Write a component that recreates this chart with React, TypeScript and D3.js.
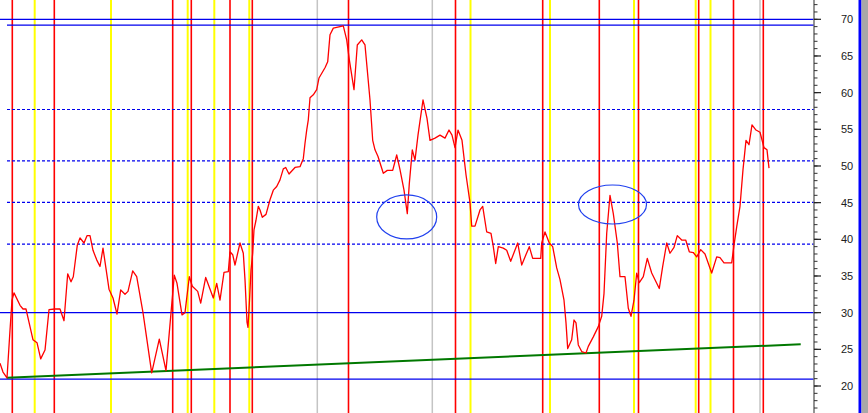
import React from "react";
import * as d3 from "d3";

const W = 868;
const H = 413;

// price series: time index and value
const priceT = [0, 3, 7, 10, 12, 14, 20, 23, 26, 30, 33, 37, 40.7, 45, 49, 55, 60, 64, 67.7, 71, 73.3, 77.3, 80, 84, 87, 90, 93, 96.7, 100, 103, 109, 113, 117, 120.7, 125, 128, 132.7, 136.7, 143, 151.7, 159.3, 166, 170.7, 174.3, 177, 182, 185, 189.3, 192.3, 197.7, 200.7, 205.7, 213.3, 216.7, 220, 224, 228.3, 230, 232.7, 235, 240, 243.3, 245, 247, 248, 249.5, 251, 252.7, 254, 256, 258.3, 260, 262.3, 266, 270, 273.3, 276.7, 280, 283.3, 285.7, 289, 295, 300, 303.3, 305, 306.7, 308.3, 310, 313.3, 316.7, 319, 325, 327.7, 330, 333.3, 340, 343.3, 346.7, 349.3, 354, 357.3, 361.7, 365, 370, 372.7, 375, 378, 383.3, 387.3, 392.7, 396.7, 400, 404, 407.3, 409.3, 412.3, 415, 418, 423, 427, 430, 435, 440, 445, 449, 452, 455, 458, 462, 466, 470, 471.7, 475, 480, 482.7, 486.7, 491, 493.3, 495.7, 498.3, 503.3, 506.7, 510.7, 517.7, 521.7, 525, 529.3, 532.7, 540.7, 541.7, 545, 549.3, 552.7, 556.7, 560, 564, 566, 567.7, 569.3, 571.7, 574, 576, 578.3, 581.7, 586, 588.3, 593.3, 598.3, 601.7, 604, 606.7, 610, 613.3, 617.3, 620, 625, 628.3, 631, 634, 636.7, 639.3, 643.3, 647.3, 651.7, 659.3, 662.7, 666.7, 670, 674, 677.3, 681.7, 685.7, 689.3, 693.3, 696.7, 700.7, 705, 711.7, 716.7, 720, 724, 731.7, 734, 736.7, 740, 743, 746, 749, 752, 756, 760, 764, 767, 769];
const priceV = [23.1, 21.9, 21.1, 27.6, 31.7, 32.7, 31.0, 30.5, 30.5, 28.1, 26.3, 25.9, 23.7, 24.9, 30.4, 30.5, 30.5, 28.9, 35.3, 34.2, 34.9, 39.2, 40.2, 39.5, 40.5, 40.5, 38.5, 37.2, 36.3, 38.8, 33.2, 32.0, 29.8, 33.1, 32.5, 32.9, 35.7, 34.9, 30.0, 21.8, 26.4, 22.1, 29.5, 35.1, 34.0, 29.7, 30.0, 34.9, 33.6, 32.9, 31.3, 34.8, 32.0, 34.0, 31.7, 35.5, 35.6, 38.3, 37.9, 36.5, 39.5, 38.1, 34.5, 28.7, 28.0, 31.7, 35.8, 38.1, 41.3, 42.6, 44.5, 44.0, 43.0, 43.4, 45.4, 46.7, 47.2, 48.1, 49.6, 49.8, 48.9, 49.8, 49.9, 51.0, 53.1, 54.9, 56.3, 59.3, 59.7, 60.4, 62.0, 63.4, 64.2, 67.9, 68.8, 69.0, 69.1, 67.2, 64.5, 60.4, 66.5, 67.2, 66.5, 59.0, 53.5, 52.2, 51.3, 49.0, 49.4, 49.4, 51.5, 49.5, 46.7, 43.5, 47.6, 52.2, 50.8, 54.2, 59.0, 56.5, 53.5, 53.8, 54.2, 53.8, 54.9, 54.2, 52.5, 54.9, 53.5, 48.8, 45.0, 41.8, 41.8, 44.0, 44.5, 41.0, 40.8, 39.0, 36.7, 39.0, 38.8, 38.5, 37.0, 39.5, 36.5, 37.6, 39.0, 37.4, 37.4, 39.5, 41.0, 39.5, 39.0, 36.1, 34.5, 31.7, 28.6, 25.1, 25.6, 26.3, 29.0, 28.6, 25.6, 24.7, 24.5, 25.4, 26.7, 28.1, 29.5, 32.6, 40.8, 46.0, 43.5, 39.5, 34.9, 34.9, 30.6, 29.5, 31.7, 35.4, 34.1, 34.9, 37.4, 35.4, 33.3, 36.3, 39.5, 38.1, 38.9, 40.5, 39.9, 39.9, 38.3, 38.2, 37.6, 38.6, 38.0, 35.4, 37.6, 37.5, 36.8, 36.8, 39.2, 41.7, 44.5, 49.5, 53.5, 52.9, 55.6, 54.9, 54.6, 52.5, 52.2, 49.7];

// vertical marker lines (time index)
const redLines = [12.3, 54.3, 172.7, 191.3, 230, 252.3, 348.5, 455.5, 542.7, 599.3, 638.5, 698.7, 733.5, 763.3];
const yellowLines = [34.7, 111, 187.7, 214.3, 249.3, 470.5, 550, 634, 695.7, 710.5];
const grayLines = [317.3, 432.3, 760];

// horizontal levels
const solidLevels = [70, 69.2, 30, 20.95];
const dashedLevels = [57.7, 50.7, 45.05, 39.35];

// trend line
const trendT = [6.7, 800.7];
const trendV = [21.13, 25.69];

// ellipse annotations
const ellipseT = [406.7, 612.5];
const ellipseV = [43.05, 44.75];
const ellipseRT = [30, 34];
const ellipseRV = [3.0, 2.66];

// axis ticks
const majorTicks = [20, 25, 30, 35, 40, 45, 50, 55, 60, 65, 70];
const minorTicks = d3.range(17, 73);

export default function App() {
  const axisX = 814;
  const x = d3.scaleLinear().domain([0, 813]).range([0, 813]);
  const y = d3.scaleLinear().domain([20, 70]).range([386, 19.3]);

  const pts: [number, number][] = priceT.map((t, i) => [t, priceV[i]]);
  const line = d3
    .line<[number, number]>()
    .x((d) => x(d[0]))
    .y((d) => y(d[1]));
  const trend: [number, number][] = trendT.map((t, i) => [t, trendV[i]]);

  return (
    <svg
      width={W}
      height={H}
      style={{ position: "absolute", left: 0, top: 0, display: "block" }}
    >
      <rect x={0} y={0} width={W} height={H} fill="#ffffff" />
      {grayLines.map((t, i) => (
        <line key={"g" + i} x1={x(t)} x2={x(t)} y1={0} y2={H} stroke="#c4c4c4" strokeWidth={1.5} />
      ))}
      {yellowLines.map((t, i) => (
        <line key={"yl" + i} x1={x(t)} x2={x(t)} y1={0} y2={H} stroke="#ffff00" strokeWidth={2} />
      ))}
      {redLines.map((t, i) => (
        <line key={"r" + i} x1={x(t)} x2={x(t)} y1={0} y2={H} stroke="#ff0000" strokeWidth={1.6} />
      ))}
      {solidLevels.map((v, i) => (
        <line key={"s" + i} x1={i === 1 ? 7 : 0} x2={axisX} y1={y(v)} y2={y(v)} stroke="#0000ee" strokeWidth={1.3} />
      ))}
      {dashedLevels.map((v, i) => (
        <line key={"d" + i} x1={7} x2={axisX} y1={y(v)} y2={y(v)} stroke="#0000ee" strokeWidth={1.2} strokeDasharray="3,2" />
      ))}
      <path d={line(trend) || ""} fill="none" stroke="#007800" strokeWidth={2} />
      <path d={line(pts) || ""} fill="none" stroke="#ff0000" strokeWidth={1.3} strokeLinejoin="round" />
      {ellipseT.map((t, i) => (
        <ellipse
          key={"e" + i}
          cx={x(t)}
          cy={y(ellipseV[i])}
          rx={x(t + ellipseRT[i]) - x(t)}
          ry={y(ellipseV[i] - ellipseRV[i]) - y(ellipseV[i])}
          fill="none"
          stroke="#2040ee"
          strokeWidth={1.2}
        />
      ))}
      {/* right axis */}
      <line x1={axisX} x2={axisX} y1={0} y2={H} stroke="#707070" strokeWidth={1.5} />
      {minorTicks.map((v) => (
        <line key={"mt" + v} x1={axisX} x2={axisX + 3.5} y1={y(v)} y2={y(v)} stroke="#303030" strokeWidth={1} />
      ))}
      {majorTicks.map((v) => (
        <g key={"MT" + v}>
          <line x1={axisX} x2={axisX + 7} y1={y(v)} y2={y(v)} stroke="#202020" strokeWidth={1.2} />
          <text
            x={847}
            y={y(v) + 1}
            textAnchor="middle"
            dominantBaseline="middle"
            fontFamily="Liberation Sans, Arial, sans-serif"
            fontSize={11}
            fill="#202020"
          >
            {v}
          </text>
        </g>
      ))}
      <rect x={858.5} y={0} width={3} height={H} fill="#0000ff" />
      <rect x={861.5} y={0} width={W - 861.5} height={H} fill="#a8a8a8" />
    </svg>
  );
}
